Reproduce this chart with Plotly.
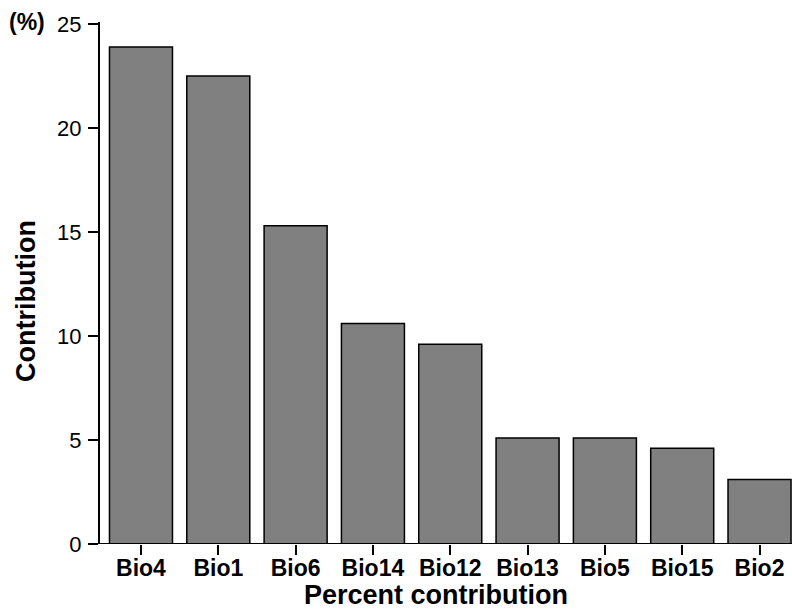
import plotly.graph_objects as go

categories = ["Bio4", "Bio1", "Bio6", "Bio14", "Bio12", "Bio13", "Bio5", "Bio15", "Bio2"]
contribution = [23.9, 22.5, 15.3, 10.6, 9.6, 5.1, 5.1, 4.6, 3.1]
y_ticks = [0, 5, 10, 15, 20, 25]

fig = go.Figure(go.Bar(
    x=categories, y=contribution,
    marker=dict(color="#808080", line=dict(color="black", width=1.5)),
))

fig.update_layout(
    width=792, height=613,
    margin=dict(l=100, r=0, t=22, b=69),
    paper_bgcolor="white", plot_bgcolor="white",
    bargap=0.185,
    showlegend=False,
    font=dict(family="Liberation Sans, Arial, sans-serif", color="black"),
    xaxis=dict(
        range=[-0.53, 8.42], showline=False, ticks="outside", ticklen=10,
        tickwidth=1.5, tickcolor="black", showgrid=False, zeroline=False,
        ticklabelstandoff=-7,
        tickfont=dict(size=23, family="Liberation Sans, Arial, sans-serif", weight="bold"),
    ),
    yaxis=dict(
        range=[0, 25.1], tickvals=y_ticks, showline=True, linecolor="black", linewidth=2,
        ticks="outside", ticklen=10, tickwidth=1.5, tickcolor="black",
        showgrid=False, zeroline=False, tickfont=dict(size=22), ticklabelstandoff=2,
    ),
    shapes=[dict(type="line", xref="paper", yref="y", x0=-0.016, x1=1, y0=0, y1=0,
                 line=dict(color="black", width=2))],
    annotations=[
        dict(text="<b>Percent contribution</b>", xref="paper", yref="paper", x=0.485, y=-0.131,
             showarrow=False, xanchor="center", yanchor="bottom", font=dict(size=27)),
        dict(text="<b>Contribution</b>", xref="paper", yref="paper", x=-0.108, y=0.466,
             showarrow=False, xanchor="center", yanchor="middle", textangle=-90, font=dict(size=27)),
        dict(text="<b>(%)</b>", xref="paper", yref="paper", x=-0.105, y=1.0,
             showarrow=False, xanchor="center", yanchor="middle", font=dict(size=23)),
    ],
)

fig.write_html("out.html", config={"displayModeBar": False},
               post_script="document.body.style.margin='0';document.body.style.overflow='hidden';")
